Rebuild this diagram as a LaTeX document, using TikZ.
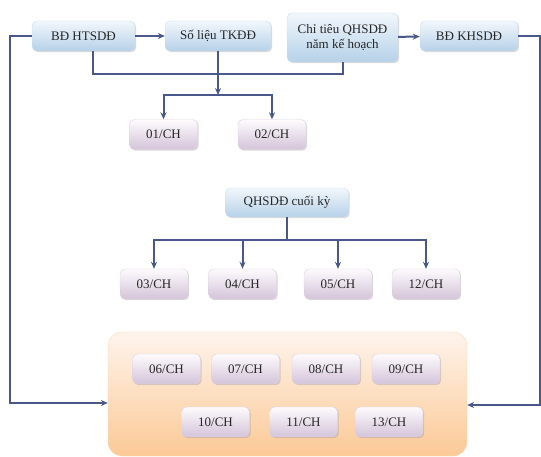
\documentclass[tikz,border=0pt]{standalone}
\usepackage{fontspec}
\setmainfont{Liberation Serif}
\usetikzlibrary{arrows.meta,shadows}
\definecolor{linkcol}{HTML}{48588A}
\definecolor{bluetop}{HTML}{F2F7FC}
\definecolor{bluebot}{HTML}{B6D1E8}
\definecolor{pinktop}{HTML}{FDFBFD}
\definecolor{pinkbot}{HTML}{D4C4D9}
\definecolor{orgtop}{HTML}{FEF4EC}
\definecolor{orgbot}{HTML}{FBC996}

\tikzset{
	box/.style={rounded corners=5pt, inner sep=0pt, align=center, text=black!85,
		font=\fontsize{13}{15}\selectfont,
		drop shadow={opacity=.3, shadow xshift=1.2pt, shadow yshift=-1.2pt}},
	bdbox/.style={box, draw=bluebot!70, top color=bluetop, bottom color=bluebot,
		minimum height=30pt},
	chbox/.style={box, draw=pinkbot!80, top color=pinktop, bottom color=pinkbot,
		minimum width=68pt, minimum height=30pt},
	panel/.style={rounded corners=14pt, draw=orgbot!70, top color=orgtop, bottom color=orgbot},
	line/.style={linkcol, line width=2pt},
	link/.style={line, -{Stealth[length=7pt,width=6pt]}}
}

\begin{document}
\begin{tikzpicture}[x=1pt,y=-1pt]
	\useasboundingbox (0,0) rectangle (541,457);

	% hang tren
	\node[bdbox, minimum width=103pt] (htsdd) at (83.5,36) {BĐ HTSDĐ};
	\node[bdbox, minimum width=106pt] (tkdd) at (218,36) {Số liệu TKĐĐ};
	\node[bdbox, minimum width=111pt, minimum height=49pt] (chitieu) at (342.5,37.5) {Chỉ tiêu QHSDĐ\\năm kế hoạch};
	\node[bdbox, minimum width=98pt] (khsdd) at (469,36) {BĐ KHSDĐ};

	\draw[link] (htsdd) -- (tkdd);
	\draw[link] (chitieu) -- (khsdd);
	\draw[line] ([xshift=9.5pt]htsdd.south) |- ([yshift=-12pt]chitieu.south) -- (chitieu.south);

	\node[chbox] (ch01) at (163.5,134.5) {01/CH};
	\node[chbox] (ch02) at (272,134.5) {02/CH};
	\coordinate (split1) at (218,95);
	\draw[link] (tkdd) -- (split1);
	\draw[link] (split1) -| (ch01);
	\draw[link] (split1) -| (ch02);

	% cuoi ky
	\node[bdbox, minimum width=123pt, minimum height=29pt] (cuoiky) at (287,202.5) {QHSDĐ cuối kỳ};
	\coordinate (split2) at (287,240);
	\draw[line] (cuoiky) -- (split2);
	\foreach \n/\x in {03/154, 04/242.5, 05/338, 12/426} {
		\node[chbox] (ch\n) at (\x,284) {\n/CH};
		\draw[link] (split2) -| (ch\n);
	}

	% khung cam
	\node[panel, minimum width=359pt, minimum height=124pt] (pnl) at (287.5,394) {};
	\foreach \n/\x in {06/166.5, 07/245.5, 08/326, 09/406}
		\node[chbox] (ch\n) at (\x,369) {\n/CH};
	\foreach \n/\x in {10/215.5, 11/303.5, 13/389}
		\node[chbox] (ch\n) at (\x,422) {\n/CH};

	\coordinate (leftc) at (10,0);
	\coordinate (rightc) at (540,0);
	\draw[link] (htsdd.west) -- (htsdd.west -| leftc) |- ([yshift=-9pt]pnl.west);
	\draw[link] (khsdd.east) -- (khsdd.east -| rightc) |- ([yshift=-11pt]pnl.east);
\end{tikzpicture}
\end{document}
